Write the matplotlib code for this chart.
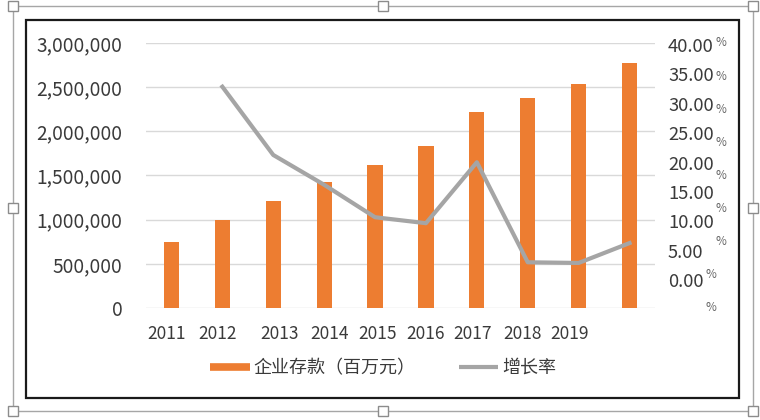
import numpy as np
import matplotlib.pyplot as plt
from matplotlib.lines import Line2D
from matplotlib.patches import Rectangle

plt.rcParams['font.family'] = ['Noto Sans CJK SC', 'DejaVu Sans']

# data
years = [2011, 2012, 2013, 2014, 2015, 2016, 2017, 2018, 2019, 2020]
deposits = [750000, 1000000, 1216000, 1432000, 1614000, 1830000,
            2216000, 2375000, 2534000, 2773000]
growth = [33.4, 23.1, 18.6, 13.7, 12.8, 22.0, 6.9, 6.8, 9.8]   # 2012-2020, %
year_labels = ['2011', '2012', '2013', '2014', '2015', '2016', '2017', '2018', '2019']
left_ticks = [0, 500000, 1000000, 1500000, 2000000, 2500000, 3000000]
right_ticks = [40, 35, 30, 25, 20, 15, 10, 5, 0]
bar_name = '企业存款（百万元）'
line_name = '增长率'

ORANGE = '#ED7D31'
GREY = '#A5A5A5'
TXT = '#3a3a3a'

W, H = 760, 420
fig = plt.figure(figsize=(W / 100, H / 100), dpi=100)
fig.patch.set_facecolor('white')


def fx(px):
    return px / W


def fy(py):
    return 1 - py / H


ax = fig.add_axes([fx(146), fy(308), fx(655) - fx(146), fy(43) - fy(308)])
x = np.arange(len(years))
ax.bar(x, deposits, width=0.3, color=ORANGE, zorder=2)
ax.set_xlim(-0.5, len(years) - 0.5)
ax.set_ylim(0, 3000000)
ax.set_yticks(left_ticks)
ax.set_yticklabels([f'{v:,}' for v in left_ticks])
ax.grid(axis='y', color='#D9D9D9', lw=1)
ax.set_axisbelow(True)
for s in ax.spines.values():
    s.set_visible(False)
ax.tick_params(axis='y', length=0, pad=17, labelsize=13.8, labelcolor=TXT)

# year labels sit a bit off the bars in the original
label_pos = [-0.09, 0.9, 2.13, 3.1, 4.04, 5.0, 5.92, 6.89, 7.83]
ax.set_xticks(label_pos)
ax.set_xticklabels(year_labels)
ax.tick_params(axis='x', length=0, pad=12, labelsize=12.5, labelcolor=TXT)

ax2 = ax.twinx()
ax2.plot(x[1:], growth, color=GREY, lw=3, zorder=3)
ax2.set_ylim(0, 40)
ax2.set_yticks([])
for s in ax2.spines.values():
    s.set_visible(False)

# right axis labels, with the wrapped "%" like the original
nums = []
for k, v in enumerate(right_ticks):
    t = fig.text(fx(668), fy(47 + 29.4 * k), f'{v:.2f}', ha='left', va='center',
                 fontsize=13.2, color=TXT)
    nums.append(t)
fig.canvas.draw()
r = fig.canvas.get_renderer()
for k, (t, v) in enumerate(zip(nums, right_ticks)):
    bb = t.get_window_extent(r)
    fig.text((bb.x1 + 2) / W, ax2.transData.transform((0, v))[1] / H, '%',
             ha='left', va='center', fontsize=8.5, color='#666666')

handles = [Line2D([], [], color=ORANGE, lw=5.5, solid_capstyle='butt'),
           Line2D([], [], color=GREY, lw=3, solid_capstyle='butt')]
fig.legend(handles, [bar_name, line_name], loc='center', ncol=2,
           bbox_to_anchor=(fx(383), fy(368)), frameon=False, fontsize=13,
           handlelength=2.2, handletextpad=0.2, columnspacing=2.4,
           labelcolor=TXT)

# chart border and selection frame
fig.add_artist(Rectangle((fx(26), fy(398)), fx(739) - fx(26), fy(20) - fy(398),
                         transform=fig.transFigure, fill=False, ec='#1a1a1a', lw=1.6))
fig.add_artist(Rectangle((fx(13), fy(411)), fx(753) - fx(13), fy(6) - fy(411),
                         transform=fig.transFigure, fill=False, ec='#A6A6A6', lw=1))
for hx in (13, 383, 753):
    for hy in (6, 208, 411):
        if hx == 383 and hy == 208:
            continue
        fig.add_artist(Line2D([fx(hx)], [fy(hy)], marker='s', ms=6.5, mfc='white',
                              mec='#8C8C8C', mew=1, transform=fig.transFigure))

fig.savefig('out.png', dpi=100)
